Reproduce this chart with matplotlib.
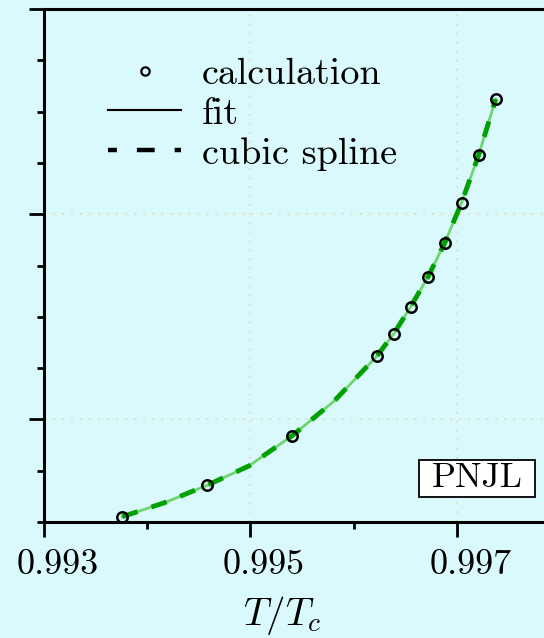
import matplotlib
matplotlib.use("Agg")
import matplotlib.pyplot as plt
import matplotlib.transforms as mtransforms
from matplotlib.lines import Line2D
from matplotlib.patches import Rectangle
from matplotlib.ticker import FixedLocator, MultipleLocator, NullFormatter

plt.rcParams["font.family"] = "serif"
plt.rcParams["font.serif"] = ["cmr10"]
plt.rcParams["mathtext.fontset"] = "cm"
plt.rcParams["axes.formatter.use_mathtext"] = True

# calculated points (y axis has no labels, arbitrary units)
T_calc = [0.993759, 0.994580, 0.995401, 0.996224, 0.996390, 0.996552,
          0.996721, 0.996883, 0.997046, 0.997211, 0.997377]
y_calc = [-0.474, -0.321, -0.081, 0.3075, 0.418, 0.548,
          0.695, 0.860, 1.056, 1.287, 1.561]

# curve (calc points + a few in-between readings)
T_fit = [0.993759, 0.994168, 0.994580, 0.994985, 0.995401, 0.995813,
         0.996224, 0.996390, 0.996552, 0.996721, 0.996883, 0.997046,
         0.997211, 0.997377]
y_fit = [-0.474, -0.406, -0.321, -0.227, -0.081, 0.090,
         0.3075, 0.418, 0.548, 0.695, 0.860, 1.056, 1.287, 1.561]

x_major = [0.993, 0.995, 0.997]
x_minor = [0.994, 0.996]
x_labels = ["0.993", "0.995", "0.997"]

bg = "#d9f9fd"
fig = plt.figure(figsize=(5.44, 6.38), dpi=100, facecolor=bg)
ax = fig.add_axes([44 / 544, 116 / 638, 516 / 544, 513 / 638])
ax.set_facecolor(bg)

ax.plot(T_fit, y_fit, color="#6fd66f", lw=2.0, zorder=2)
ax.plot(T_fit, y_fit, color="#00a000", lw=3.5, dashes=(3.3, 3.0), zorder=3)
ax.plot(T_calc, y_calc, "o", mfc="none", mec="black", ms=7.5, mew=1.8, zorder=4)

ax.set_xlim(0.993, 0.998)
ax.set_ylim(-0.5, 2.0)
ax.xaxis.set_major_locator(FixedLocator(x_major))
ax.xaxis.set_minor_locator(FixedLocator(x_minor))
ax.set_xticklabels(x_labels)
ax.xaxis.set_minor_formatter(NullFormatter())
ax.yaxis.set_major_locator(MultipleLocator(1.0))
ax.yaxis.set_minor_locator(MultipleLocator(0.25))
ax.set_yticklabels([])

ax.grid(True, which="major", color="#e6dcb4", ls=(0, (1, 4)), lw=1.3)
ax.set_axisbelow(True)

for s in ["left", "bottom", "top"]:
    ax.spines[s].set_linewidth(2.2)
ax.spines["right"].set_visible(False)
ax.tick_params(which="major", direction="out", length=11, width=2.0, labelsize=26, pad=9)
ax.tick_params(which="minor", direction="out", length=5, width=2.0)
ax.tick_params(top=False, right=False, which="both")

# tick labels sit a bit right of their ticks in the original
shift = mtransforms.ScaledTranslation(0.135, 0, fig.dpi_scale_trans)
for lab in ax.get_xticklabels():
    lab.set_transform(lab.get_transform() + shift)

ax.set_xlabel(r"$T/T_c$", fontsize=28)
ax.xaxis.set_label_coords(238 / 516, -0.14)

handles = [
    Line2D([], [], ls="none", marker="o", mfc="none", mec="black", ms=6, mew=1.6),
    Line2D([], [], color="black", lw=1.5),
    Line2D([], [], color="black", lw=3.2, dashes=(2.0, 4.5, 4.0, 4.5)),
]
ax.legend(handles, ["calculation", "fit", "cubic spline"], loc="upper left",
          bbox_to_anchor=(0.058, 0.973), frameon=False, fontsize=27.5,
          handlelength=1.9, handletextpad=0.55, labelspacing=0.16)

ax.add_patch(Rectangle((0.727, 0.0487), 0.225, 0.072, transform=ax.transAxes,
                       fc="white", ec="black", lw=1.3, zorder=5))
ax.text(0.839, 0.0858, "PNJL", transform=ax.transAxes, fontsize=25.5,
        ha="center", va="center", zorder=6)

fig.savefig("out.png", dpi=100, facecolor=bg)
